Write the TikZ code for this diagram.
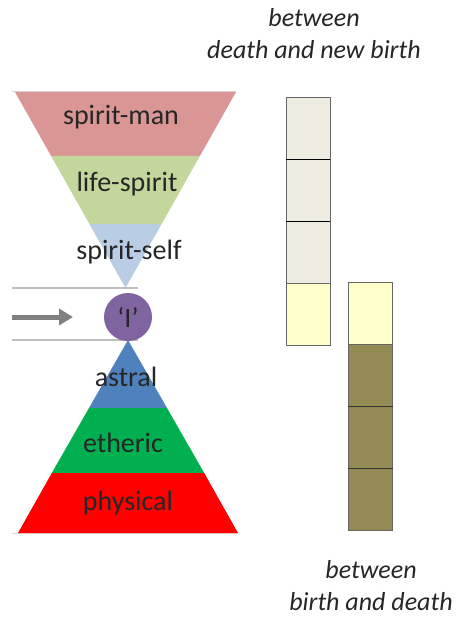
\documentclass[tikz,border=0pt]{standalone}
\usepackage{fontspec}
\setmainfont{Carlito}
\usetikzlibrary{arrows.meta}

\definecolor{manRed}{HTML}{D99694}
\definecolor{lifeGreen}{HTML}{C3D69B}
\definecolor{selfBlue}{HTML}{B9CDE5}
\definecolor{egoPurple}{HTML}{8064A2}
\definecolor{astralBlue}{HTML}{4F81BD}
\definecolor{ethericGreen}{HTML}{00B050}
\definecolor{physicalRed}{HTML}{FF0000}
\definecolor{cellGrey}{HTML}{EEECE1}
\definecolor{cellYellow}{HTML}{FFFFCC}
\definecolor{cellOlive}{HTML}{948A54}

\begin{document}
\begin{tikzpicture}[x=1pt, y=-1pt,
        bandLabel/.style={font=\fontsize{28}{30}\selectfont, text=black!85, inner sep=0pt},
        noteLabel/.style={font=\fontsize{26}{32}\selectfont\itshape, align=center, text=black!85, inner sep=0pt},
        cellNode/.style={rectangle, draw=black!60, line width=0.8pt, minimum width=44pt, minimum height=62pt, inner sep=0pt},
        divider/.style={line width=1.6pt},
        guideLine/.style={black!25, line width=1.5pt}
    ]
        \useasboundingbox (0,0) rectangle (463,620);

        % faint edges behind the two triangles
        \draw[black!15, line width=1pt] (12,92) -- (236,92);
        \draw[black!15, line width=1pt] (12,533) -- (238,533);

        % upper triangle: spirit-man, life-spirit, spirit-self
        \fill[manRed] (15,92) -- (236,92) -- (199.9,156) -- (51.1,156) -- cycle;
        \fill[lifeGreen] (51.1,156) -- (199.9,156) -- (161.6,224) -- (89.4,224) -- cycle;
        \fill[selfBlue] (89.4,224) -- (161.6,224) -- (125.5,288) -- cycle;

        % lower triangle: astral, etheric, physical
        \fill[astralBlue] (128,340) -- (167,408) -- (89,408) -- cycle;
        \fill[ethericGreen] (89,408) -- (167,408) -- (204.2,473) -- (51.8,473) -- cycle;
        \fill[physicalRed] (51.8,473) -- (204.2,473) -- (238,533) -- (18,533) -- cycle;

        \draw[guideLine] (12,288) -- (138,288);
        \draw[guideLine] (12,340) -- (138,340);

        \node[bandLabel] (spiritMan) at (121,117) {spirit-man};
        \node[bandLabel] (lifeSpirit) at (127,184) {life-spirit};
        \node[bandLabel] (spiritSelf) at (129,252) {spirit-self};
        \node[bandLabel] (astral) at (126,377) {astral};
        \node[bandLabel] (etheric) at (123,443) {etheric};
        \node[bandLabel] (physical) at (128,503) {physical};

        \node[circle, fill=egoPurple, minimum size=48pt, inner sep=0pt,
            font=\fontsize{28}{30}\selectfont, text=black!85] (ego) at (128,317) {‘I’};

        \coordinate (arrowTail) at (12,317);
        \coordinate (arrowTip) at (73,317);
        \draw[black!50, line width=5pt, -{Triangle[length=14pt, width=16pt]}] (arrowTail) -- (arrowTip);

        % column between death and new birth
        \node[cellNode, fill=cellGrey] (deathCell1) at (308,128) {};
        \node[cellNode, fill=cellGrey] (deathCell2) at (308,190) {};
        \node[cellNode, fill=cellGrey] (deathCell3) at (308,252) {};
        \node[cellNode, fill=cellYellow] (deathCell4) at (308,314) {};
        \draw[divider] (deathCell1.south west) -- (deathCell1.south east);
        \draw[divider] (deathCell2.south west) -- (deathCell2.south east);

        % column between birth and death
        \node[cellNode, fill=cellYellow] (lifeCell1) at (370.5,313) {};
        \node[cellNode, fill=cellOlive] (lifeCell2) at (370.5,375) {};
        \node[cellNode, fill=cellOlive] (lifeCell3) at (370.5,437) {};
        \node[cellNode, fill=cellOlive] (lifeCell4) at (370.5,499) {};
        \draw[divider, black!80, line width=1.2pt] (lifeCell2.south west) -- (lifeCell2.south east);
        \draw[divider, black!80, line width=1.2pt] (lifeCell3.south west) -- (lifeCell3.south east);

        \node[noteLabel] (deathNote) at (314,34) {between\\death and new birth};
        \node[noteLabel] (lifeNote) at (371,586) {between\\birth and death};
    \end{tikzpicture}
\end{document}
